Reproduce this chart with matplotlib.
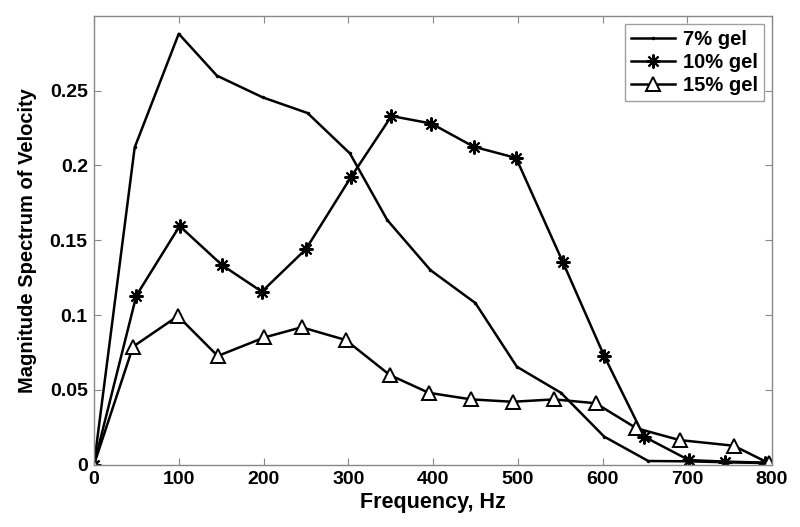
import matplotlib
matplotlib.use("Agg")
import matplotlib.pyplot as plt

# Data
x7 = [0, 48, 100, 145, 199, 252, 302, 346, 397, 450, 499, 551, 602, 654, 700, 750, 796]
y7 = [0, 0.212, 0.288, 0.260, 0.2455, 0.235, 0.208, 0.1635, 0.130, 0.108, 0.0654, 0.048, 0.0187, 0.0024, 0.0022, 0.0015, 0.001]

x10 = [0, 50, 101, 151, 198, 250, 303, 351, 398, 448, 498, 553, 602, 649, 702, 745, 792]
y10 = [0, 0.113, 0.1595, 0.1334, 0.1156, 0.144, 0.192, 0.233, 0.228, 0.2125, 0.205, 0.1356, 0.0726, 0.0187, 0.003, 0.002, 0.0013]

x15 = [0, 46, 99, 146, 201, 245, 297, 349, 395, 445, 494, 543, 592, 640, 691, 755, 796]
y15 = [0, 0.0788, 0.0993, 0.0726, 0.085, 0.0918, 0.0833, 0.0599, 0.048, 0.0436, 0.042, 0.0436, 0.041, 0.0243, 0.0164, 0.0126, 0.001]

labels = ["7% gel", "10% gel", "15% gel"]
xticks = [0, 100, 200, 300, 400, 500, 600, 700, 800]
yticks = [0, 0.05, 0.1, 0.15, 0.2, 0.25]
ytick_labels = ["0", "0.05", "0.1", "0.15", "0.2", "0.25"]

plt.rcParams['font.family'] = ['Liberation Sans', 'DejaVu Sans']

fig = plt.figure(figsize=(8, 5.27), dpi=100)
ax = fig.add_axes([0.1175, 0.1184, 0.8475, 0.8516])

ax.plot(x7, y7, color='black', lw=1.8, marker='.', markersize=3, label=labels[0])
ax.plot(x10, y10, color='black', lw=1.8, marker=(8, 2, 0), markersize=10,
        markeredgewidth=1.5, label=labels[1])
ax.plot(x15, y15, color='black', lw=1.8, marker='^', markersize=10,
        markerfacecolor='white', markeredgecolor='black', markeredgewidth=1.4,
        label=labels[2])

ax.set_xlim(0, 800)
ax.set_ylim(0, 0.3)
ax.set_xticks(xticks)
ax.set_yticks(yticks)
ax.set_yticklabels(ytick_labels)
ax.tick_params(direction='in', top=True, right=True, length=5, width=0.8,
               color='#888888', labelsize=14, pad=4.5)
for lab in ax.get_xticklabels() + ax.get_yticklabels():
    lab.set_fontweight('bold')
for sp in ax.spines.values():
    sp.set_color('#888888')
    sp.set_linewidth(1.0)

ax.set_xlabel("Frequency, Hz", fontsize=15.5, fontweight='bold', labelpad=3)
ax.set_ylabel("Magnitude Spectrum of Velocity", fontsize=14.5, fontweight='bold', labelpad=9)

leg = ax.legend(loc='upper right', prop={'weight': 'bold', 'size': 14.5},
                frameon=True, fancybox=False, edgecolor='#888888',
                borderaxespad=0.4, handlelength=2.2, handletextpad=0.4,
                labelspacing=0.2, borderpad=0.3)
leg.get_frame().set_linewidth(1.0)

fig.savefig("out.png", dpi=100)
